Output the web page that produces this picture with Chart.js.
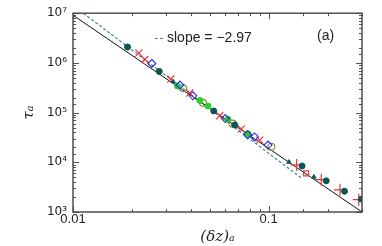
<!DOCTYPE html>
<html><head><meta charset="utf-8">
<script src="https://cdn.jsdelivr.net/npm/chart.js@4.4.1/dist/chart.umd.min.js"></script>
<style>html,body{margin:0;padding:0;background:#fff}</style>
</head><body>
<canvas id="c" width="382" height="246"></canvas>
<script>
// ---- data ----
const tealCircleX = [0.0190, 0.0276, 0.0524, 0.0671, 0.1482, 0.1969, 0.2442, 0.298];
const tealCircleY = [2.09e6, 6.75e5, 1.08e5, 5.64e4, 8.42e3, 4.24e3, 2.62e3, 1.82e3];
const tealTriX = [0.0325, 0.1269, 0.1703];
const tealTriY = [4.19e5, 1.01e4, 5.08e3];
const redXx = [0.0217, 0.0233, 0.0316, 0.0395, 0.0562, 0.0725, 0.0900];
const redXy = [1.57e6, 1.17e6, 4.74e5, 2.47e5, 8.61e4, 4.71e4, 2.79e4];
const redPlusX = [0.139, 0.1857, 0.2316, 0.2888];
const redPlusY = [8.85e3, 4.48e3, 2.79e3, 1.77e3];
const redSquareX = [0.1554];
const redSquareY = [6.0e3];
const blueDiamondX = [0.0253, 0.0352, 0.0410, 0.0600, 0.0780, 0.0848, 0.0992];
const blueDiamondY = [9.73e5, 3.59e5, 2.18e5, 7.6e4, 3.6e4, 3.24e4, 2.22e4];
const greenX = [0.0342, 0.0445, 0.0490, 0.0620, 0.0784];
const greenY = [3.43e5, 1.75e5, 1.35e5, 7.39e4, 3.76e4];
const oliveX = [0.0366, 0.0462, 0.0655, 0.1032];
const oliveY = [3.09e5, 1.57e5, 6.0e4, 2.06e4];
const fitX = [0.01, 0.3];
const fitY = [9.1e6, 1.0e3];
const slopeX = [0.01129, 0.149];
const slopeY = [1.0e7, 4.64e3];
const xLabelValues = [0.01, 0.1];
const xLabelTexts = ['0.01', '0.1'];
const legendText = 'slope = \u22122.97';
const panelText = '(a)';
const xTitle = '(\u03b4z)\u2090';
const yTitle = '\u03c4\u2090';

const pts = (xs, ys) => xs.map((v, i) => ({x: v, y: ys[i]}));
const SUP = {'0':'\u2070','1':'\u00b9','2':'\u00b2','3':'\u00b3','4':'\u2074','5':'\u2075','6':'\u2076','7':'\u2077','8':'\u2078','9':'\u2079','-':'\u207b'};
const sup = n => String(n).split('').map(c => SUP[c]).join('');
const isDecade = v => { const e = Math.log10(v); return Math.abs(e - Math.round(e)) < 1e-6; };

const TEAL = '#0b5555', TEAL_L = '#3a8c8c', RED = '#e0383c', BLUE = '#2a2ae0', GREEN = '#28d028', OLIVE = '#8a8a2a';

const inward = {
  id: 'inward',
  afterDatasetsDraw(chart) {
    const {ctx, chartArea: a, scales: {x, y}} = chart;
    ctx.save();
    ctx.strokeStyle = '#555'; ctx.lineWidth = 1;
    ctx.beginPath();
    x.ticks.forEach(t => {
      const p = Math.round(x.getPixelForValue(t.value)) + 0.5;
      const L = isDecade(t.value) ? 6 : 3;
      ctx.moveTo(p, a.bottom); ctx.lineTo(p, a.bottom - L);
      ctx.moveTo(p, a.top); ctx.lineTo(p, a.top + L);
    });
    y.ticks.forEach(t => {
      const p = Math.round(y.getPixelForValue(t.value)) + 0.5;
      const L = isDecade(t.value) ? 6 : 3;
      ctx.moveTo(a.left, p); ctx.lineTo(a.left + L, p);
      ctx.moveTo(a.right, p); ctx.lineTo(a.right - L, p);
    });
    ctx.stroke();
    ctx.lineWidth = 1.4; ctx.strokeStyle = '#444';
    ctx.strokeRect(a.left, a.top, a.right - a.left, a.bottom - a.top);
    // legend
    ctx.strokeStyle = TEAL_L; ctx.lineWidth = 1.2; ctx.setLineDash([3, 2]);
    ctx.beginPath(); ctx.moveTo(155, 38.5); ctx.lineTo(165, 38.5); ctx.stroke();
    ctx.setLineDash([]);
    ctx.fillStyle = '#222'; ctx.font = '14px "Liberation Sans"'; ctx.textBaseline = 'middle';
    ctx.fillText(legendText, 167, 38);
    ctx.fillText(panelText, 317, 36);
    ctx.restore();
  }
};

new Chart(document.getElementById('c'), {
  type: 'scatter',
  data: {
    datasets: [
      {data: pts(tealCircleX, tealCircleY), pointStyle: 'circle', pointRadius: 3, backgroundColor: TEAL, borderColor: TEAL, borderWidth: 1},
      {data: pts(tealTriX, tealTriY), pointStyle: 'triangle', pointRadius: 2.5, backgroundColor: TEAL, borderColor: TEAL, borderWidth: 1},
      {data: pts(redXx, redXy), pointStyle: 'crossRot', pointRadius: 5, borderColor: RED, borderWidth: 1.2},
      {data: pts(redPlusX, redPlusY), pointStyle: 'cross', pointRadius: 6, borderColor: RED, borderWidth: 1.2},
      {data: pts(redSquareX, redSquareY), pointStyle: 'rect', pointRadius: 3.5, backgroundColor: 'rgba(0,0,0,0)', borderColor: RED, borderWidth: 1.2},
      {data: pts(blueDiamondX, blueDiamondY), pointStyle: 'rectRot', pointRadius: 4, backgroundColor: 'rgba(0,0,0,0)', borderColor: BLUE, borderWidth: 1.1},
      {data: pts(greenX, greenY), pointStyle: 'circle', pointRadius: 3, backgroundColor: GREEN, borderColor: GREEN, borderWidth: 1},
      {data: pts(oliveX, oliveY), pointStyle: 'circle', pointRadius: 3.5, backgroundColor: 'rgba(0,0,0,0)', borderColor: OLIVE, borderWidth: 1.1},
      {data: pts(fitX, fitY), showLine: true, pointRadius: 0, borderColor: '#111', borderWidth: 1},
      {data: pts(slopeX, slopeY), showLine: true, pointRadius: 0, borderColor: TEAL_L, borderWidth: 1.2, borderDash: [3, 2]}
    ]
  },
  options: {
    responsive: false, animation: false, devicePixelRatio: 1,
    layout: {padding: {top: 8, right: 20, left: 0, bottom: 0}},
    plugins: {legend: {display: false}, tooltip: {enabled: false}},
    scales: {
      x: {
        type: 'logarithmic', min: 0.01, max: 0.3,
        grid: {display: false, drawTicks: false}, border: {display: false},
        ticks: {autoSkip: false, maxRotation: 0, padding: 0, color: '#222', font: {family: 'Liberation Sans', size: 13},
          callback: v => { const i = xLabelValues.findIndex(u => Math.abs(Math.log10(u) - Math.log10(v)) < 1e-6); return i >= 0 ? xLabelTexts[i] : ''; }},
        title: {display: true, text: xTitle, color: '#222', padding: {top: 0, bottom: 0}, font: {family: 'DejaVu Serif', style: 'italic', size: 15}},
        afterFit: s => { s.height = 34; }
      },
      y: {
        type: 'logarithmic', min: 1e3, max: 1e7,
        grid: {display: false, drawTicks: false}, border: {display: false},
        ticks: {autoSkip: false, padding: 6, color: '#222', font: {family: 'DejaVu Sans', size: 12},
          callback: v => isDecade(v) ? '10' + sup(Math.round(Math.log10(v))) : ''},
        title: {display: true, text: yTitle, color: '#222', padding: {top: 20, bottom: 0}, font: {family: 'DejaVu Serif', style: 'italic', size: 15}},
        afterFit: s => { s.width = 73; }
      }
    }
  },
  plugins: [inward]
});
</script>
</body></html>
